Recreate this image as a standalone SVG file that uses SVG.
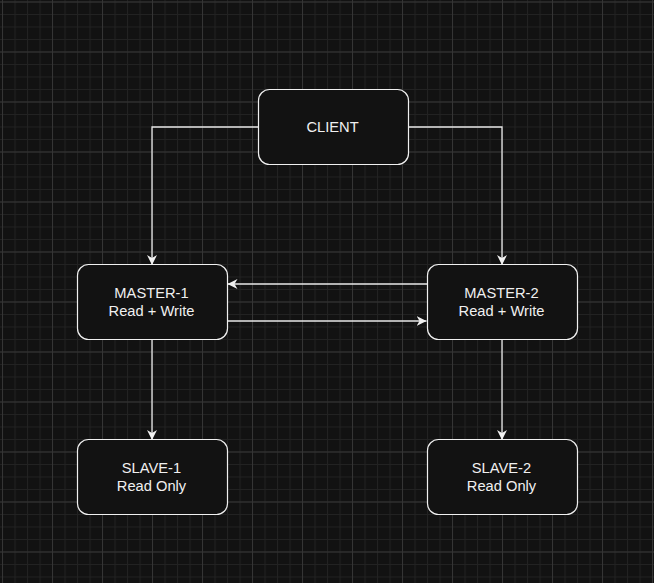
<svg xmlns="http://www.w3.org/2000/svg" width="654" height="583" viewBox="0 0 654 583">
<defs>
<pattern id="minor" x="2" y="1.5" width="12.5" height="12.5" patternUnits="userSpaceOnUse">
<path d="M0 0.5H12.5M0.5 0V12.5" fill="none" stroke="#222" stroke-width="1"/>
</pattern>
<pattern id="major" x="2" y="1.5" width="50" height="50" patternUnits="userSpaceOnUse">
<path d="M0 0.5H50M0.5 0V50" fill="none" stroke="#353535" stroke-width="1"/>
</pattern>
<marker id="arr" viewBox="0 0 10 10" refX="10" refY="5" markerWidth="10" markerHeight="10" markerUnits="userSpaceOnUse" orient="auto">
<path d="M0 0 L10 5 L0 10 L3 5 Z" fill="#f0f0f0"/>
</marker>
<style>
.box{fill:#121212;stroke:#f0f0f0;stroke-width:1.2}
.lbl{font-family:"Liberation Sans",Arial,sans-serif;font-size:14.7px;fill:#f0f0f0;text-anchor:middle}
.edge{fill:none;stroke:#e8e8e8;stroke-width:1.3;marker-end:url(#arr)}
</style>
</defs>
<rect width="654" height="583" fill="#121212"/>
<rect width="654" height="583" fill="url(#minor)"/>
<rect width="654" height="583" fill="url(#major)"/>
<g id="connectors">
<path class="edge" d="M258 127H152V265"/>
<path class="edge" d="M408 127H502V265"/>
<path class="edge" d="M427 284H227.5"/>
<path class="edge" d="M227 321H426.5"/>
<path class="edge" d="M152 339.5V440"/>
<path class="edge" d="M502 339.5V440"/>
</g>
<g id="client">
<rect class="box" x="258.5" y="89.5" width="150" height="75" rx="11"/>
<text class="lbl" x="332.5" y="132">CLIENT</text>
</g>
<g id="master1">
<rect class="box" x="77.5" y="264.5" width="150" height="75" rx="11"/>
<text class="lbl" x="151.5" y="298">MASTER-1</text>
<text class="lbl" x="151.5" y="315.5">Read + Write</text>
</g>
<g id="master2">
<rect class="box" x="427.5" y="264.5" width="150" height="75" rx="11"/>
<text class="lbl" x="501.5" y="298">MASTER-2</text>
<text class="lbl" x="501.5" y="315.5">Read + Write</text>
</g>
<g id="slave1">
<rect class="box" x="77.5" y="439.5" width="150" height="75" rx="11"/>
<text class="lbl" x="151.5" y="473">SLAVE-1</text>
<text class="lbl" x="151.5" y="490.5">Read Only</text>
</g>
<g id="slave2">
<rect class="box" x="427.5" y="439.5" width="150" height="75" rx="11"/>
<text class="lbl" x="501.5" y="473">SLAVE-2</text>
<text class="lbl" x="501.5" y="490.5">Read Only</text>
</g>
</svg>
